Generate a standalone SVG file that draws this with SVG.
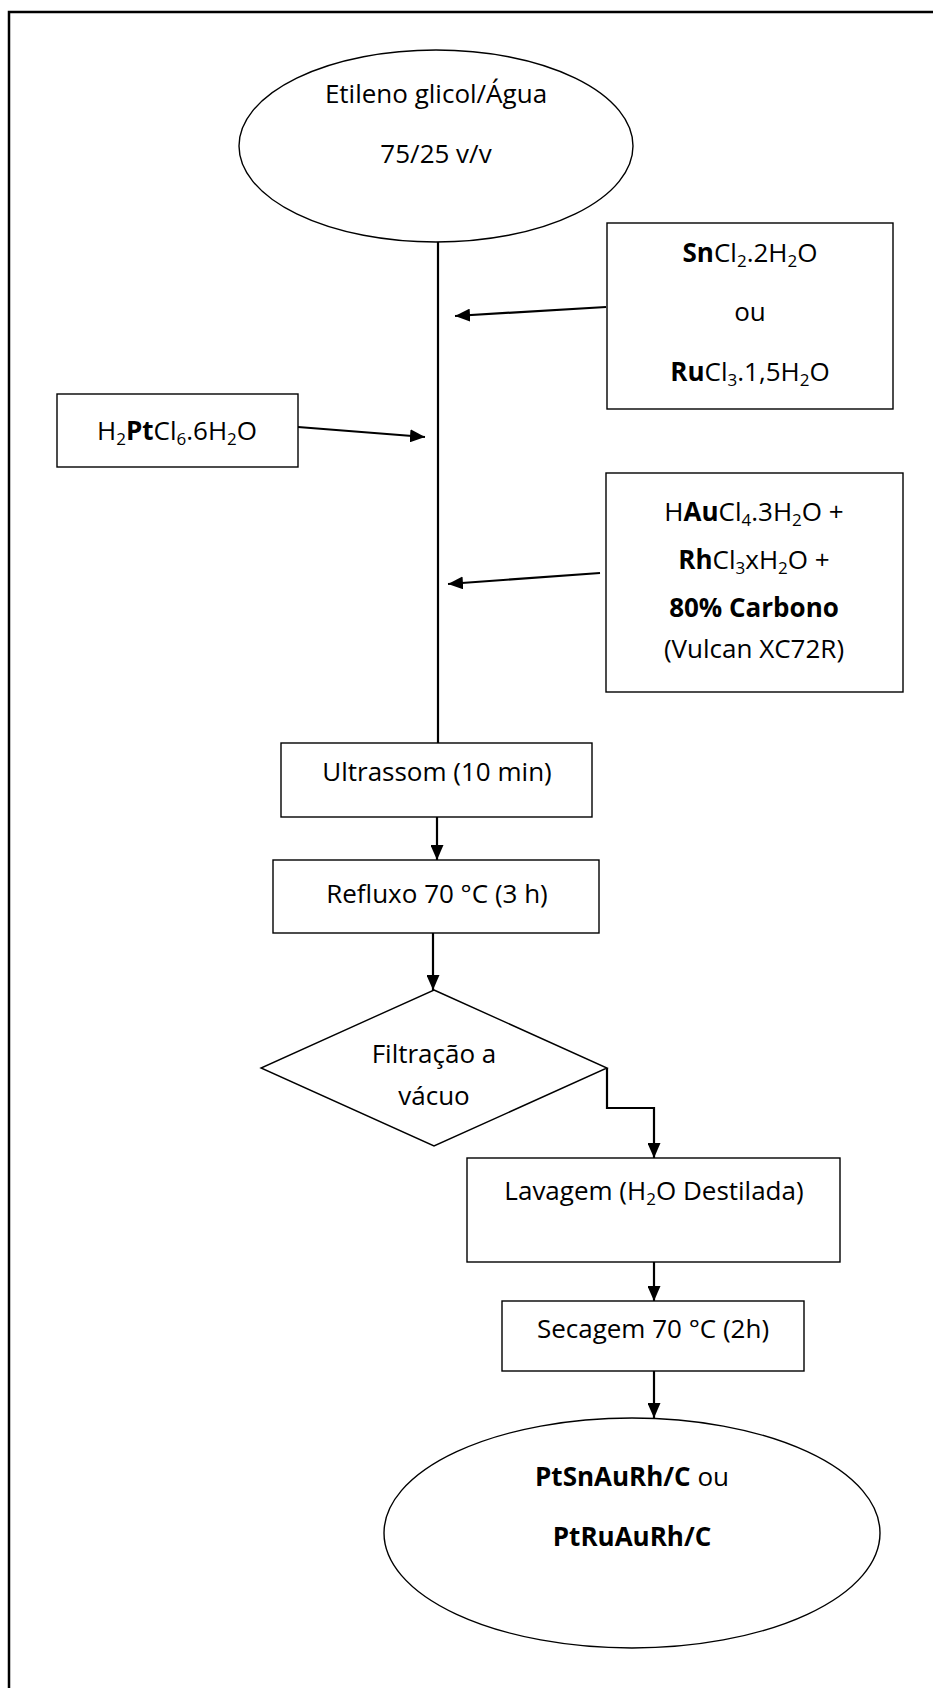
<svg xmlns="http://www.w3.org/2000/svg" width="933" height="1688" viewBox="0 0 933 1688">
<style>
  .node { fill: #ffffff; stroke: #000000; stroke-width: 1.4; }
  .conn { fill: none; stroke: #000000; stroke-width: 2.2; }
  text { font-family: "Open Sans", "Liberation Sans", sans-serif; font-size: 26px; fill: #000000; text-anchor: middle; }
  .b { font-weight: bold; }
  .sub { font-size: 17px; }
</style>
<defs>
  <marker id="arrow" markerUnits="userSpaceOnUse" markerWidth="16" markerHeight="13" refX="15" refY="6.5" orient="auto">
    <path d="M0,0 L15,6.5 L0,13 z" fill="#000000"/>
  </marker>
</defs>
<rect x="0" y="0" width="933" height="1688" fill="#ffffff"/>
<path d="M9,1688 L9,12 L933,12" fill="none" stroke="#000000" stroke-width="2.5"/>

<g id="connectors">
  <path class="conn" d="M438,242 V743"/>
  <path class="conn" d="M606,307 L455,316" marker-end="url(#arrow)"/>
  <path class="conn" d="M298,427 L425,437" marker-end="url(#arrow)"/>
  <path class="conn" d="M600,573 L448,584" marker-end="url(#arrow)"/>
  <path class="conn" d="M437,817 V860" marker-end="url(#arrow)"/>
  <path class="conn" d="M433,933 V990" marker-end="url(#arrow)"/>
  <path class="conn" d="M607,1068 V1108 H654 V1158" marker-end="url(#arrow)"/>
  <path class="conn" d="M654,1262 V1301" marker-end="url(#arrow)"/>
  <path class="conn" d="M654,1371 V1418" marker-end="url(#arrow)"/>
</g>

<g id="solvent">
  <ellipse class="node" cx="436" cy="146" rx="197" ry="96"/>
  <text x="436" y="103">Etileno glicol/Água</text>
  <text x="436" y="163">75/25 v/v</text>
</g>

<g id="sn-ru">
  <rect class="node" x="607" y="223" width="286" height="186"/>
  <text x="750" y="262"><tspan class="b">Sn</tspan>Cl<tspan class="sub" dy="5">2</tspan><tspan dy="-5">.2H</tspan><tspan class="sub" dy="5">2</tspan><tspan dy="-5">O</tspan></text>
  <text x="750" y="321">ou</text>
  <text x="750" y="381"><tspan class="b">Ru</tspan>Cl<tspan class="sub" dy="5">3</tspan><tspan dy="-5">.1,5H</tspan><tspan class="sub" dy="5">2</tspan><tspan dy="-5">O</tspan></text>
</g>

<g id="pt">
  <rect class="node" x="57" y="394" width="241" height="73"/>
  <text x="177" y="440">H<tspan class="sub" dy="5">2</tspan><tspan class="b" dy="-5">Pt</tspan>Cl<tspan class="sub" dy="5">6</tspan><tspan dy="-5">.6H</tspan><tspan class="sub" dy="5">2</tspan><tspan dy="-5">O</tspan></text>
</g>

<g id="au-rh-c">
  <rect class="node" x="606" y="473" width="297" height="219"/>
  <text x="754" y="521">H<tspan class="b">Au</tspan>Cl<tspan class="sub" dy="5">4</tspan><tspan dy="-5">.3H</tspan><tspan class="sub" dy="5">2</tspan><tspan dy="-5">O +</tspan></text>
  <text x="754" y="569"><tspan class="b">Rh</tspan>Cl<tspan class="sub" dy="5">3</tspan><tspan dy="-5">xH</tspan><tspan class="sub" dy="5">2</tspan><tspan dy="-5">O +</tspan></text>
  <text x="754" y="617" class="b">80% Carbono</text>
  <text x="754" y="658">(Vulcan XC72R)</text>
</g>

<g id="ultrassom">
  <rect class="node" x="281" y="743" width="311" height="74"/>
  <text x="437" y="781">Ultrassom (10 min)</text>
</g>

<g id="refluxo">
  <rect class="node" x="273" y="860" width="326" height="73"/>
  <text x="437" y="903">Refluxo 70 °C (3 h)</text>
</g>

<g id="filtracao">
  <polygon class="node" points="434,990 607,1068 434,1146 261,1068"/>
  <text x="434" y="1063">Filtração a</text>
  <text x="434" y="1105">vácuo</text>
</g>

<g id="lavagem">
  <rect class="node" x="467" y="1158" width="373" height="104"/>
  <text x="654" y="1200">Lavagem (H<tspan class="sub" dy="5">2</tspan><tspan dy="-5">O Destilada)</tspan></text>
</g>

<g id="secagem">
  <rect class="node" x="502" y="1301" width="302" height="70"/>
  <text x="653" y="1338">Secagem 70 °C (2h)</text>
</g>

<g id="produto">
  <ellipse class="node" cx="632" cy="1533" rx="248" ry="115"/>
  <text x="632" y="1486"><tspan class="b">PtSnAuRh/C</tspan> ou</text>
  <text x="632" y="1546" class="b">PtRuAuRh/C</text>
</g>
</svg>
